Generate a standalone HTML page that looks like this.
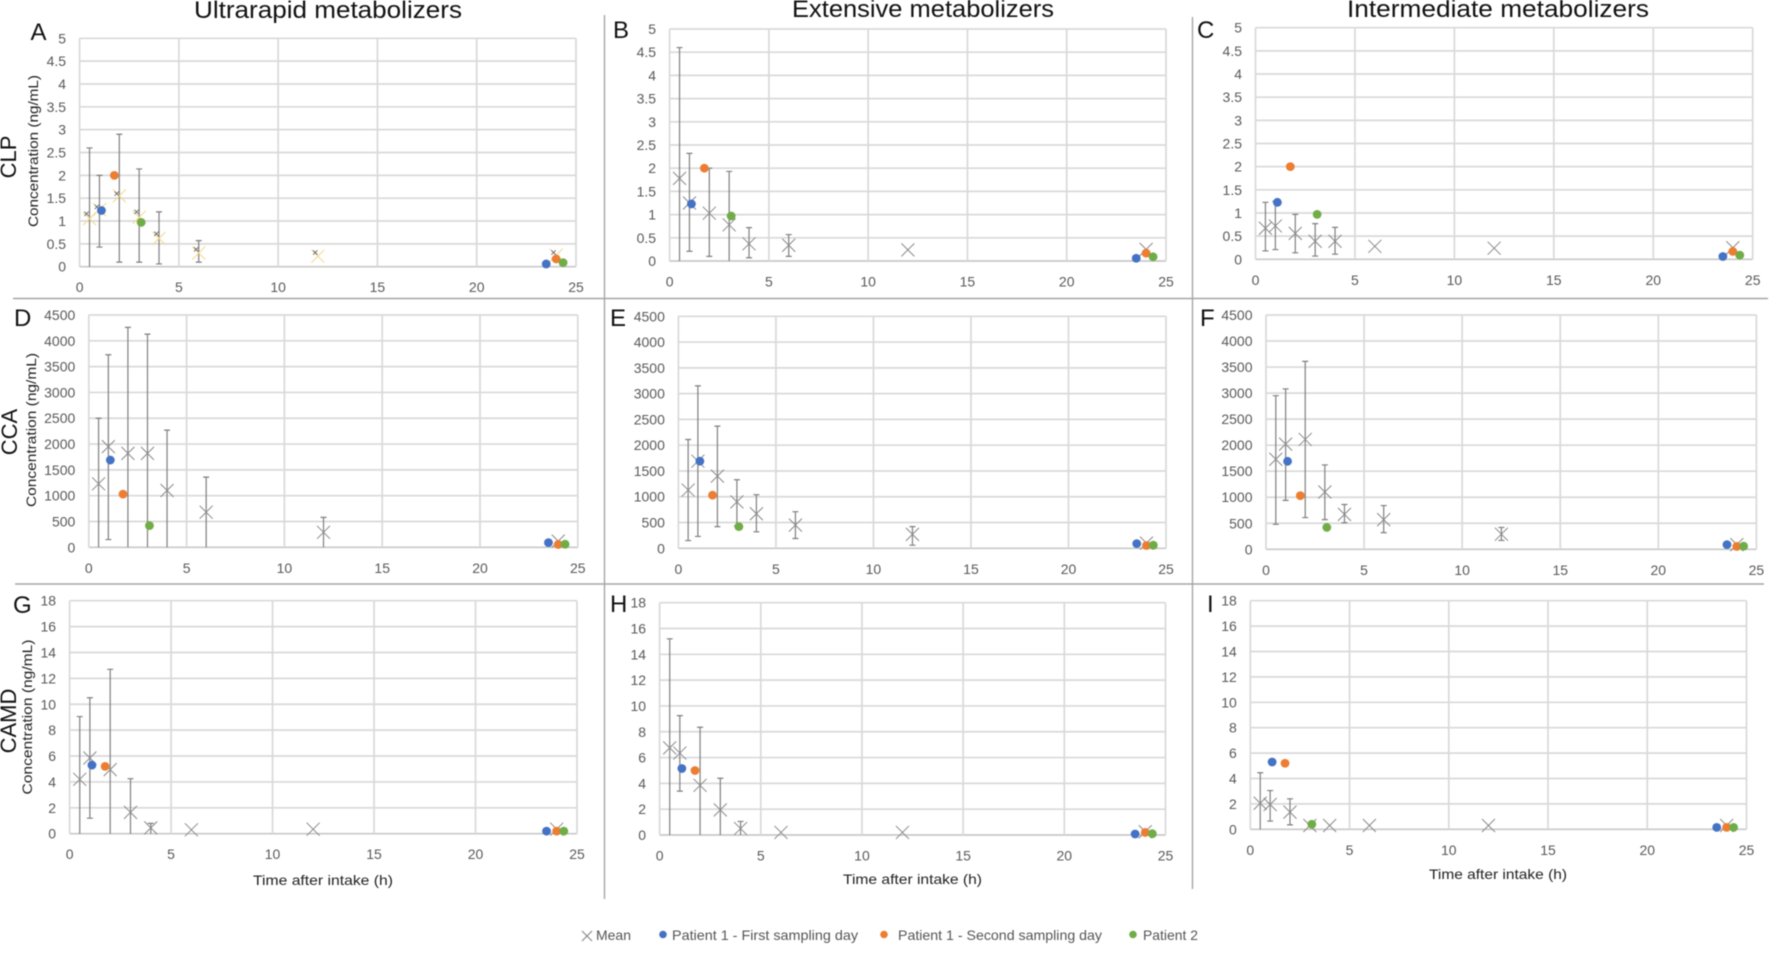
<!DOCTYPE html>
<html lang="en">
<head>
<meta charset="utf-8">
<title>Concentration versus time by metabolizer phenotype</title>
<style>
html,body{margin:0;padding:0;background:#fff;}
body{width:1772px;height:956px;overflow:hidden;}
svg{display:block;filter:blur(0.4px);}
text{font-family:"Liberation Sans",sans-serif;}
</style>
</head>
<body>
<svg id="figure" xmlns="http://www.w3.org/2000/svg" width="1772" height="956" viewBox="0 0 1772 956">
  <rect x="0" y="0" width="1772" height="956" fill="#ffffff"/>
  <line x1="13" y1="298.5" x2="1768" y2="298.5" stroke="#a6a6a6" stroke-width="1.4"/>
  <line x1="15" y1="584" x2="1764" y2="584" stroke="#a6a6a6" stroke-width="1.4"/>
  <line x1="604.5" y1="15" x2="604.5" y2="899" stroke="#a6a6a6" stroke-width="1.4"/>
  <line x1="1192.5" y1="17" x2="1192.5" y2="889" stroke="#a6a6a6" stroke-width="1.4"/>
  <text x="194" y="18" font-size="24" fill="#111" textLength="268" lengthAdjust="spacingAndGlyphs">Ultrarapid metabolizers</text>
  <text x="792" y="17" font-size="24" fill="#111" textLength="262" lengthAdjust="spacingAndGlyphs">Extensive metabolizers</text>
  <text x="1347" y="17" font-size="24" fill="#111" textLength="302" lengthAdjust="spacingAndGlyphs">Intermediate metabolizers</text>
  <text transform="translate(16,157) rotate(-90)" text-anchor="middle" font-size="22" fill="#111">CLP</text>
  <text transform="translate(17,432) rotate(-90)" text-anchor="middle" font-size="22" fill="#111">CCA</text>
  <text transform="translate(16,721) rotate(-90)" text-anchor="middle" font-size="22" fill="#111">CAMD</text>
  <text transform="translate(38,151) rotate(-90)" text-anchor="middle" font-size="14" fill="#222" textLength="152" lengthAdjust="spacingAndGlyphs">Concentration (ng/mL)</text>
  <text transform="translate(36,430) rotate(-90)" text-anchor="middle" font-size="14" fill="#222" textLength="154" lengthAdjust="spacingAndGlyphs">Concentration (ng/mL)</text>
  <text transform="translate(32,717) rotate(-90)" text-anchor="middle" font-size="14" fill="#222" textLength="155" lengthAdjust="spacingAndGlyphs">Concentration (ng/mL)</text>
  <text x="253" y="885" font-size="14" fill="#222" textLength="140" lengthAdjust="spacingAndGlyphs">Time after intake (h)</text>
  <text x="843" y="884" font-size="14" fill="#222" textLength="139" lengthAdjust="spacingAndGlyphs">Time after intake (h)</text>
  <text x="1429" y="879" font-size="14" fill="#222" textLength="138" lengthAdjust="spacingAndGlyphs">Time after intake (h)</text>
  <g>
    <g>
      <path d="M582 931L592 941M592 931L582 941" stroke="#7f7f7f" stroke-width="1" fill="none"/>
      <text x="596" y="940" font-size="14" fill="#555" textLength="35" lengthAdjust="spacingAndGlyphs">Mean</text>
    </g>
    <g>
      <circle cx="663" cy="934.5" r="3.8" fill="#4472c4"/>
      <text x="672" y="940" font-size="14" fill="#555" textLength="186" lengthAdjust="spacingAndGlyphs">Patient 1 - First sampling day</text>
    </g>
    <g>
      <circle cx="884" cy="934.5" r="3.8" fill="#ed7d31"/>
      <text x="898" y="940" font-size="14" fill="#555" textLength="204" lengthAdjust="spacingAndGlyphs">Patient 1 - Second sampling day</text>
    </g>
    <g>
      <circle cx="1133" cy="934.5" r="3.8" fill="#70ad47"/>
      <text x="1143" y="940" font-size="14" fill="#555" textLength="55" lengthAdjust="spacingAndGlyphs">Patient 2</text>
    </g>
  </g>
  <g id="charts"></g>
</svg>
<script>
/* Shared axis values */
const xTickValues = [0, 5, 10, 15, 20, 25];
const clpTicks = [0, 0.5, 1, 1.5, 2, 2.5, 3, 3.5, 4, 4.5, 5];
const ccaTicks = [0, 500, 1000, 1500, 2000, 2500, 3000, 3500, 4000, 4500];
const camdTicks = [0, 2, 4, 6, 8, 10, 12, 14, 16, 18];
const sampleTimes = [0.5, 1, 2, 3, 4, 6, 12, 24];

/* Mean concentration per panel */
const meanA = [1.05, 1.25, 1.55, 1.08, 0.62, 0.3, 0.23, 0.25];
const meanB = [1.78, 1.25, 1.03, 0.78, 0.37, 0.34, 0.24, 0.25];
const meanC = [0.67, 0.72, 0.56, 0.39, 0.39, 0.28, 0.24, 0.25];
const meanD = [1230, 1950, 1820, 1820, 1100, 680, 290, 120];
const meanE = [1130, 1690, 1400, 900, 670, 450, 270, 100];
const meanF = [1730, 2020, 2110, 1100, 670, 570, 290, 90];
const meanG = [4.2, 5.85, 4.95, 1.65, 0.45, 0.3, 0.35, 0.35];
const meanH = [6.75, 6.35, 3.85, 1.95, 0.5, 0.2, 0.2, 0.25];
const meanI = [2.05, 1.95, 1.35, 0.3, 0.3, 0.3, 0.3, 0.3];

/* Error bar bounds per panel (null = no visible bar) */
const lowA = [0, 0.43, 0.1, 0.1, 0.06, 0.1, null, null];
const highA = [2.6, 2.0, 2.9, 2.14, 1.2, 0.57, null, null];
const lowB = [0, 0.21, 0.1, 0, 0.07, 0.1, null, null];
const highB = [4.6, 2.32, 2.0, 1.93, 0.72, 0.57, null, null];
const lowC = [0.18, 0.21, 0.14, 0.07, 0.11, null, null, null];
const highC = [1.23, 1.25, 0.97, 0.77, 0.69, null, null, null];
const lowD = [0, 150, 0, 0, 0, 0, 0, null];
const highD = [2500, 3730, 4260, 4130, 2270, 1360, 580, null];
const lowE = [150, 230, 420, 430, 320, 190, 60, null];
const highE = [2110, 3150, 2370, 1330, 1040, 710, 420, null];
const lowF = [480, 940, 610, 570, 510, 320, 170, null];
const highF = [2950, 3080, 3610, 1620, 860, 840, 420, null];
const lowG = [0, 1.2, 0, 0, 0, null, null, null];
const highG = [9.05, 10.5, 12.7, 4.25, 0.8, null, null, null];
const lowH = [0, 3.4, 0, 0, 0, null, null, null];
const highH = [15.2, 9.25, 8.35, 4.4, 1.05, null, null, null];
const lowI = [0, 0.65, 0.35, null, null, null, null, null];
const highI = [4.45, 3.05, 2.4, null, null, null, null, null];

/* Panel A also shows a second small mean series, slightly offset */
const smallMeanTimesA = [0.35, 0.87, 1.87, 2.87, 3.87, 5.87, 11.87, 23.87];
const smallMeanA = [1.16, 1.31, 1.6, 1.2, 0.72, 0.38, 0.31, 0.31];

/* Patient observations */
const firstDayTimes = [1.1, 23.5];
const secondDayTimes = [1.75, 24];
const patient2Times = [3.1, 24.35];
const patient2TimesLate = [24.35];
const clpFirstDay = [1.23, 0.06];
const clpSecondDay = [2.0, 0.17];
const clpPatient2 = [0.97, 0.09];
const ccaFirstDay = [1690, 90];
const ccaSecondDay = [1030, 55];
const ccaPatient2 = [420, 60];
const camdFirstDayG = [5.3, 0.2];
const camdSecondDayG = [5.2, 0.2];
const camdPatient2G = [0.2];
const camdFirstDayH = [5.15, 0.08];
const camdSecondDayH = [5.0, 0.2];
const camdPatient2H = [0.1];
const camdFirstDayI = [5.3, 0.15];
const camdSecondDayI = [5.2, 0.15];
const camdPatient2I = [0.4, 0.15];

/* Panel layout (pixels) kept apart from the data */
const layout = {
  A: {l: 79.6, r: 576, t: 38.3, b: 266.7, lx: 30.5, ly: 40},
  B: {l: 669.6, r: 1166, t: 29, b: 261, lx: 613, ly: 38},
  C: {l: 1255.5, r: 1752.7, t: 27.7, b: 259.3, lx: 1197, ly: 38},
  D: {l: 88.8, r: 577.8, t: 315, b: 547.3, lx: 14, ly: 326},
  E: {l: 678.4, r: 1166, t: 316.3, b: 548.3, lx: 610, ly: 326},
  F: {l: 1266, r: 1756.4, t: 315, b: 549.3, lx: 1200, ly: 326},
  G: {l: 69.6, r: 577, t: 600.7, b: 833.7, lx: 13, ly: 613},
  H: {l: 659.6, r: 1165.5, t: 602.7, b: 835, lx: 610, ly: 612},
  I: {l: 1250.3, r: 1746.5, t: 600.7, b: 829.3, lx: 1207, ly: 612}
};

const panels = [
  {id: 'A', ticks: clpTicks, mean: meanA, low: lowA, high: highA, first: clpFirstDay, second: clpSecondDay, p2: clpPatient2, p2t: patient2Times, light: true},
  {id: 'B', ticks: clpTicks, mean: meanB, low: lowB, high: highB, first: clpFirstDay, second: clpSecondDay, p2: clpPatient2, p2t: patient2Times},
  {id: 'C', ticks: clpTicks, mean: meanC, low: lowC, high: highC, first: clpFirstDay, second: clpSecondDay, p2: clpPatient2, p2t: patient2Times},
  {id: 'D', ticks: ccaTicks, mean: meanD, low: lowD, high: highD, first: ccaFirstDay, second: ccaSecondDay, p2: ccaPatient2, p2t: patient2Times},
  {id: 'E', ticks: ccaTicks, mean: meanE, low: lowE, high: highE, first: ccaFirstDay, second: ccaSecondDay, p2: ccaPatient2, p2t: patient2Times},
  {id: 'F', ticks: ccaTicks, mean: meanF, low: lowF, high: highF, first: ccaFirstDay, second: ccaSecondDay, p2: ccaPatient2, p2t: patient2Times},
  {id: 'G', ticks: camdTicks, mean: meanG, low: lowG, high: highG, first: camdFirstDayG, second: camdSecondDayG, p2: camdPatient2G, p2t: patient2TimesLate},
  {id: 'H', ticks: camdTicks, mean: meanH, low: lowH, high: highH, first: camdFirstDayH, second: camdSecondDayH, p2: camdPatient2H, p2t: patient2TimesLate},
  {id: 'I', ticks: camdTicks, mean: meanI, low: lowI, high: highI, first: camdFirstDayI, second: camdSecondDayI, p2: camdPatient2I, p2t: patient2Times}
];

const SVG_NS = 'http://www.w3.org/2000/svg';
const root = document.getElementById('charts');

function make(tag, name, parent, props) {
  const el = document.createElementNS(SVG_NS, tag);
  
  
  for (const key in props) el.setAttribute(key, props[key]);
  parent.appendChild(el);
  return el;
}

function drawCross(parent, name, cx, cy, half, stroke, width) {
  make('path', name, parent, {
    d: 'M' + (cx - half) + ' ' + (cy - half) + 'L' + (cx + half) + ' ' + (cy + half) +
       'M' + (cx + half) + ' ' + (cy - half) + 'L' + (cx - half) + ' ' + (cy + half),
    stroke: stroke, 'stroke-width': width, fill: 'none'
  });
}

function drawPatient(parent, name, times, values, xScale, yScale, color) {
  values.forEach(function (v, i) {
    make('circle', name + '-' + i, parent, {cx: xScale(times[i]), cy: yScale(v), r: 4.4, fill: color});
  });
}

panels.forEach(function (p) {
  const box = layout[p.id];
  const yMax = p.ticks[p.ticks.length - 1];
  const xScale = function (v) { return box.l + (v / 25) * (box.r - box.l); };
  const yScale = function (v) { return box.b - (v / yMax) * (box.b - box.t); };
  const key = p.id.toLowerCase();
  const g = make('g', 'panel-' + key, root, {});

  const letter = make('text', 'panel-letter-' + key, g, {x: box.lx, y: box.ly, 'font-size': 24, fill: '#111'});
  letter.textContent = p.id;

  p.ticks.forEach(function (t) {
    const y = yScale(t);
    make('line', 'gridline-y-' + key + '-' + t, g, {x1: box.l, x2: box.r, y1: y, y2: y, stroke: t === 0 ? '#c8c8c8' : '#d9d9d9', 'stroke-width': 1.7});
    const label = make('text', 'y-tick-' + key + '-' + t, g, {x: box.l - 13.5, y: y + 5, 'text-anchor': 'end', 'font-size': 14, fill: '#595959'});
    label.textContent = String(t);
  });
  xTickValues.forEach(function (t) {
    const x = xScale(t);
    make('line', 'gridline-x-' + key + '-' + t, g, {x1: x, x2: x, y1: box.t, y2: box.b, stroke: '#d9d9d9', 'stroke-width': 1.7});
    const label = make('text', 'x-tick-' + key + '-' + t, g, {x: x, y: box.b + 25.5, 'text-anchor': 'middle', 'font-size': 14, fill: '#595959'});
    label.textContent = String(t);
  });

  sampleTimes.forEach(function (time, i) {
    if (p.high[i] === null) return;
    const x = xScale(time);
    const yHigh = yScale(p.high[i]);
    const yLow = yScale(p.low[i]);
    make('path', 'error-bar-' + key + '-' + time, g, {
      d: 'M' + x + ' ' + yHigh + 'V' + yLow +
         'M' + (x - 3) + ' ' + yHigh + 'H' + (x + 3) +
         (p.low[i] > 0 ? 'M' + (x - 3) + ' ' + yLow + 'H' + (x + 3) : ''),
      stroke: '#7f7f7f', 'stroke-width': 1.2, fill: 'none'
    });
  });

  sampleTimes.forEach(function (time, i) {
    drawCross(g, 'mean-marker-' + key + '-' + time, xScale(time), yScale(p.mean[i]), 6.5, p.light ? '#f5d78e' : '#8a8a8a', 1);
  });
  if (p.light) {
    smallMeanTimesA.forEach(function (time, i) {
      drawCross(g, 'small-mean-marker-' + key + '-' + i, xScale(time), yScale(smallMeanA[i]), 2.2, '#666666', 0.9);
    });
  }

  drawPatient(g, 'patient-1-first-' + key, firstDayTimes, p.first, xScale, yScale, '#4472c4');
  drawPatient(g, 'patient-1-second-' + key, secondDayTimes, p.second, xScale, yScale, '#ed7d31');
  drawPatient(g, 'patient-2-' + key, p.p2t, p.p2, xScale, yScale, '#70ad47');
});
</script>
</body>
</html>
